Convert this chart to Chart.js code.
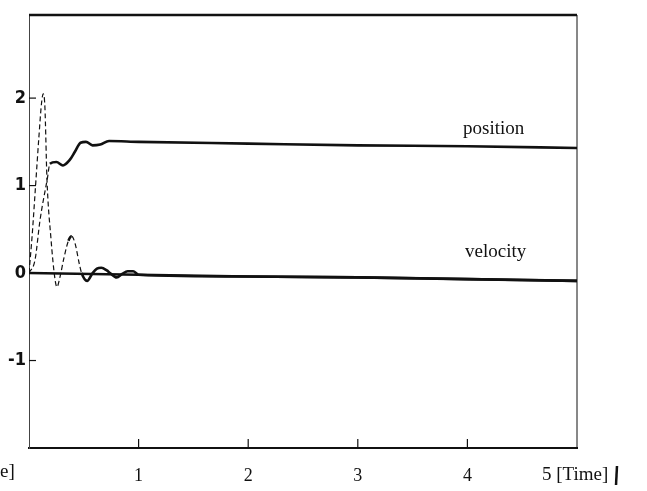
<!DOCTYPE html>
<html><head><meta charset="utf-8">
<script src="https://cdn.jsdelivr.net/npm/chart.js@4.4.0/dist/chart.umd.min.js"></script>
<style>html,body{margin:0;padding:0;background:#fff}canvas{display:block}</style>
</head><body>
<canvas id="c" width="647" height="491"></canvas>
<script>
// ---- data ----
const timeTicks = [1, 2, 3, 4];
const valueTicks = [-1, 0, 1, 2];
const positionT = [0, 0.055, 0.1, 0.17, 0.19, 0.25, 0.31, 0.37, 0.42, 0.47, 0.52, 0.58, 0.65, 0.73, 1, 2, 3, 4, 5];
const positionV = [0, 0.15, 0.6, 1.1, 1.25, 1.27, 1.23, 1.29, 1.39, 1.49, 1.50, 1.46, 1.47, 1.51, 1.50, 1.48, 1.46, 1.45, 1.43];
const velocityT = [0, 0.03, 0.06, 0.09, 0.115, 0.13, 0.145, 0.164, 0.2, 0.235, 0.255, 0.28, 0.32, 0.36, 0.39, 0.42, 0.46, 0.48, 0.53, 0.58, 0.62, 0.66, 0.71, 0.74, 0.8, 0.85, 0.9, 0.95, 1.0, 2, 3, 4, 5];
const velocityV = [0, 0.45, 1.0, 1.55, 1.95, 2.05, 1.9, 1.07, 0.4, -0.05, -0.16, -0.06, 0.18, 0.37, 0.42, 0.34, 0.1, 0.0, -0.09, 0.0, 0.05, 0.06, 0.03, 0.0, -0.05, -0.01, 0.02, 0.02, -0.02, -0.04, -0.05, -0.07, -0.09];
const zeroLevelT = [0, 1, 2, 3, 4, 5];
const zeroLevelV = [0, -0.02, -0.04, -0.05, -0.07, -0.09];
const seriesLabels = ['position', 'velocity'];
const xAxisTitle = '5 [Time]';
const yAxisTitleFragment = 'e]';

const INK = '#111';
const toPts = (ts, vs) => ts.map((t, i) => ({x: t, y: vs[i]}));
const steep = ctx => {
  const a = ctx.p0.parsed, b = ctx.p1.parsed;
  return Math.abs(b.y - a.y) / Math.max(1e-6, Math.abs(b.x - a.x)) > 2.5;
};
const seg = {
  borderDash: ctx => steep(ctx) ? [5, 3] : undefined,
  borderWidth: ctx => steep(ctx) ? 1.2 : 2.6
};

const decor = {
  id: 'decor',
  afterDraw(chart) {
    const {ctx, chartArea: a, scales: {x, y}} = chart;
    ctx.save();
    ctx.strokeStyle = INK;
    // top and right frame
    ctx.lineWidth = 2.5;
    ctx.beginPath(); ctx.moveTo(a.left, a.top); ctx.lineTo(a.right, a.top); ctx.stroke();
    ctx.lineWidth = 1;
    ctx.beginPath(); ctx.moveTo(a.right, a.top); ctx.lineTo(a.right, a.bottom); ctx.stroke();
    // inward ticks
    ctx.lineWidth = 1.2;
    timeTicks.forEach(v => {
      const px = x.getPixelForValue(v);
      ctx.beginPath(); ctx.moveTo(px, a.bottom); ctx.lineTo(px, a.bottom - 9); ctx.stroke();
    });
    valueTicks.forEach(v => {
      const py = y.getPixelForValue(v);
      ctx.beginPath(); ctx.moveTo(a.left, py); ctx.lineTo(a.left + 7, py); ctx.stroke();
    });
    // texts
    ctx.fillStyle = INK;
    ctx.font = '19px "Liberation Serif", "DejaVu Serif", serif';
    ctx.textBaseline = 'alphabetic';
    ctx.textAlign = 'left';
    ctx.fillText(seriesLabels[0], 463, y.getPixelForValue(positionV[positionV.length - 1]) - 14);
    ctx.fillText(seriesLabels[1], 465, y.getPixelForValue(0) - 16);
    ctx.fillText(xAxisTitle, 542, 480);
    ctx.fillText(yAxisTitleFragment, 0, 477);
    ctx.lineWidth = 2.5;
    ctx.beginPath(); ctx.moveTo(617, 466); ctx.lineTo(616, 485); ctx.stroke();
    ctx.restore();
  }
};

new Chart(document.getElementById('c'), {
  type: 'line',
  data: {
    datasets: [
      {label: seriesLabels[0], data: toPts(positionT, positionV), borderColor: INK, borderWidth: 2.4,
       pointRadius: 0, cubicInterpolationMode: 'monotone', segment: seg},
      {label: seriesLabels[1], data: toPts(velocityT, velocityV), borderColor: INK, borderWidth: 2.4,
       pointRadius: 0, cubicInterpolationMode: 'monotone', segment: seg},
      {label: 'zero level', data: toPts(zeroLevelT, zeroLevelV), borderColor: INK, borderWidth: 2.6,
       pointRadius: 0, tension: 0}
    ]
  },
  options: {
    responsive: false,
    animation: false,
    events: [],
    layout: {padding: {top: 15, right: 70, left: 0, bottom: 0}},
    plugins: {legend: {display: false}, tooltip: {enabled: false}},
    scales: {
      x: {
        type: 'linear', min: 0, max: 5,
        afterBuildTicks: s => { s.ticks = timeTicks.map(v => ({value: v})); },
        afterFit: s => { s.height = 43; },
        grid: {display: false, drawTicks: false},
        border: {display: true, color: INK, width: 2},
        ticks: {color: INK, padding: 17, maxRotation: 0,
                font: {family: '"Liberation Serif", "DejaVu Serif", serif', size: 18}}
      },
      y: {
        type: 'linear', min: -2, max: 2.95,
        afterBuildTicks: s => { s.ticks = valueTicks.map(v => ({value: v})); },
        afterFit: s => { s.width = 29; },
        grid: {display: false, drawTicks: false},
        border: {display: true, color: '#444', width: 1, dash: [4, 1]},
        ticks: {color: INK, padding: 3,
                font: {family: '"Liberation Sans Narrow", "DejaVu Sans Condensed", sans-serif', size: 18, weight: 'bold'}}
      }
    }
  },
  plugins: [decor]
});
</script>
</body></html>
